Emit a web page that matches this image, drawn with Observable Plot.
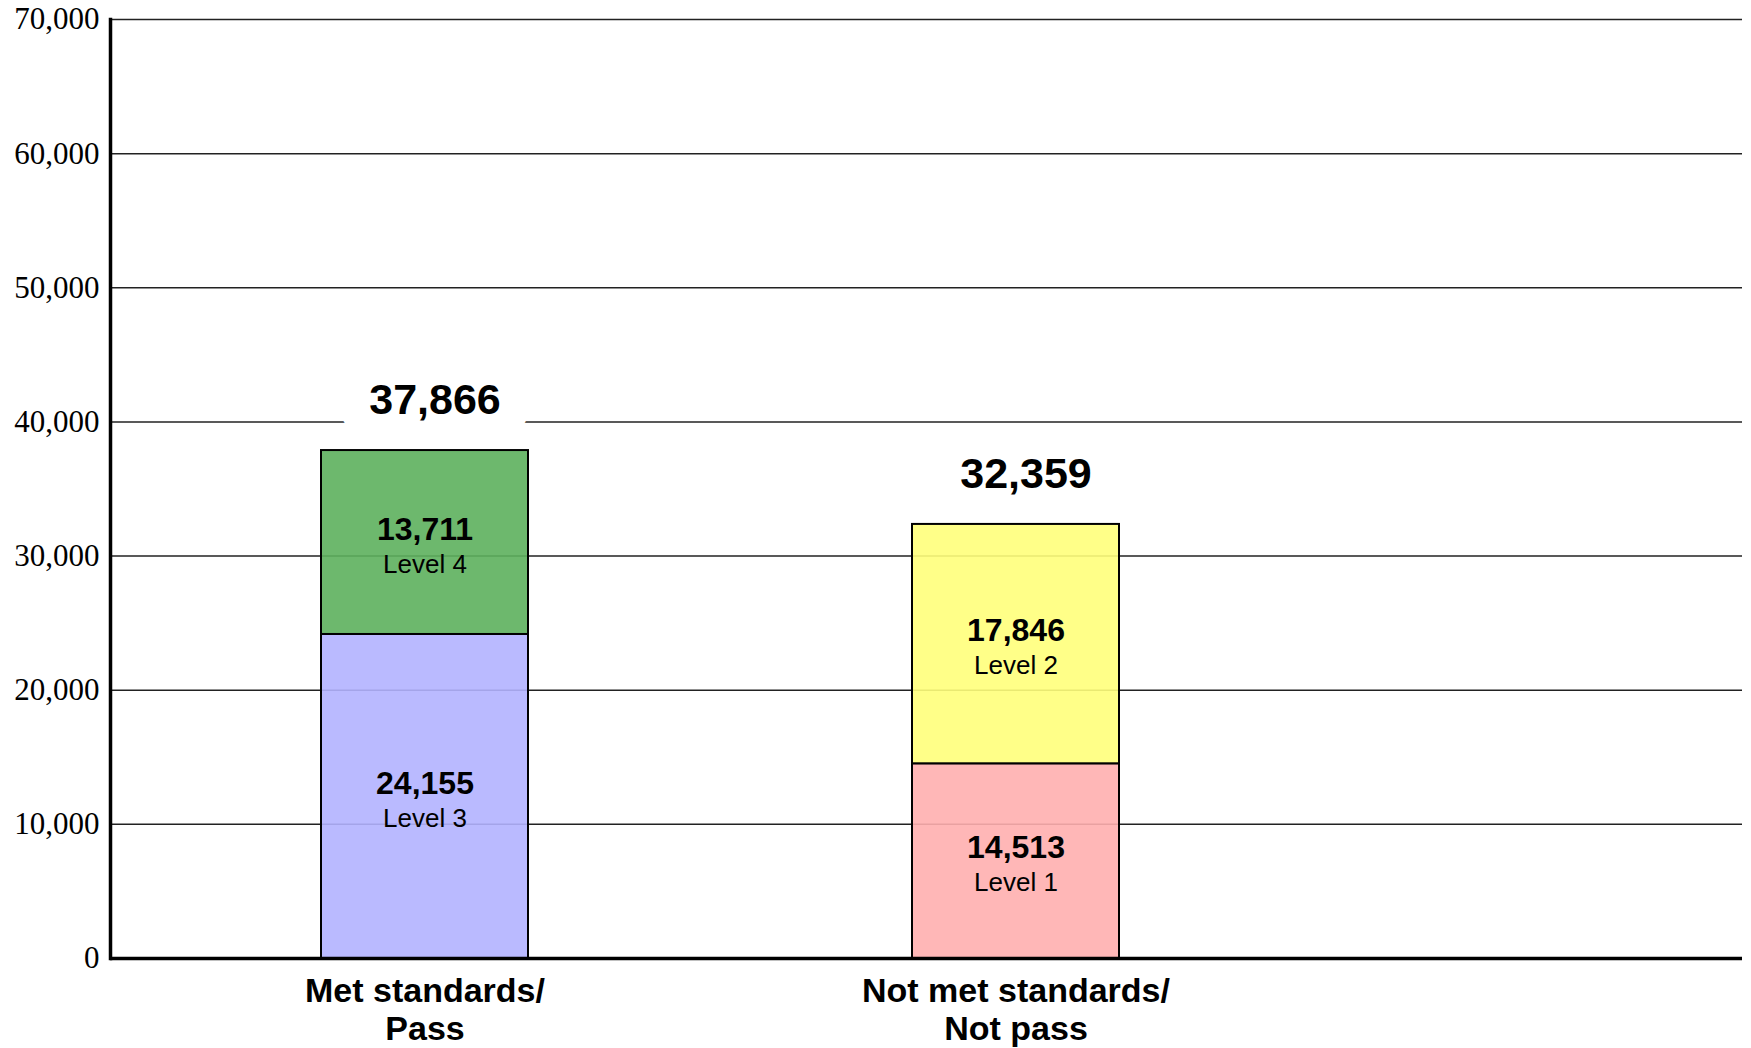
<!DOCTYPE html>
<html><head><meta charset="utf-8">
<script src="https://cdn.jsdelivr.net/npm/d3@7"></script>
<script src="https://cdn.jsdelivr.net/npm/@observablehq/plot@0.6"></script>
<style>html,body{margin:0;padding:0;background:#fff} svg{display:block}</style>
</head><body><div id="chart"></div>
<script>
const categories = ["Met standards/\nPass", "Not met standards/\nNot pass"];
const levels = ["Level 3", "Level 4", "Level 1", "Level 2"];
const levelCategory = [categories[0], categories[0], categories[1], categories[1]];
const levelValues = [24155, 13711, 14513, 17846];
const levelColors = ["#b3b3ff", "#5db05d", "#ffafaf", "#ffff7b"];
const totals = [37866, 32359];
const yTicks = [0, 10000, 20000, 30000, 40000, 50000, 60000, 70000];

const rows = levels.map((level, i) => ({category: levelCategory[i], level, value: levelValues[i]}));
const base = {};
rows.forEach(r => {
  r.y1 = base[r.category] || 0;
  r.y2 = r.y1 + r.value;
  r.mid = (r.y1 + r.y2) / 2;
  base[r.category] = r.y2;
});
const totalRows = categories.map((c, i) => ({category: c, total: totals[i]}));
const fmt = d3.format(",");
const sans = "Liberation Sans, Arial, sans-serif";
const totalOpts = {x: "category", y: "total", text: d => fmt(d.total), dy: -50, dx: 10, fontSize: 43, fontWeight: "bold"};

const chart = Plot.plot({
  width: 1751,
  height: 1048,
  marginLeft: 110,
  marginRight: 9,
  marginTop: 19,
  marginBottom: 90,
  style: {background: "#fff", fontFamily: sans, color: "#000"},
  x: {domain: categories, range: [320, 1119], paddingInner: 0.65, paddingOuter: 0},
  y: {domain: [0, 70000]},
  color: {domain: levels, range: levelColors},
  marks: [
    Plot.gridY(yTicks, {stroke: "#222", strokeOpacity: 1, strokeWidth: 1.5}),
    Plot.text(totalRows, {...totalOpts, fill: "#fff", stroke: "#fff", strokeWidth: 60}),
    Plot.barY(rows, {x: "category", y1: "y1", y2: "y2", fill: "level", fillOpacity: 0.9, stroke: "#000", strokeWidth: 2}),
    Plot.ruleY([0], {stroke: "#000", strokeWidth: 3.5}),
    Plot.frame({anchor: "left", stroke: "#000", strokeWidth: 3.5}),
    Plot.axisY(yTicks, {tickSize: 0, tickPadding: 11, tickFormat: fmt, fontFamily: "Liberation Serif, Times New Roman, serif", fontSize: 31, label: null, fill: "#000"}),
    Plot.axisX({tickSize: 0, tickPadding: 16, fontWeight: "bold", fontSize: 34, fontFamily: sans, lineHeight: 1.13, label: null, fill: "#000"}),
    Plot.text(rows, {x: "category", y: "mid", text: d => fmt(d.value), dy: -13, fontWeight: "bold", fontSize: 32, fill: "#000"}),
    Plot.text(rows, {x: "category", y: "mid", text: "level", dy: 22, fontSize: 26, fill: "#000"}),
    Plot.text(totalRows, {...totalOpts, fill: "#000"})
  ]
});
document.getElementById("chart").append(chart);
</script>
</body></html>
